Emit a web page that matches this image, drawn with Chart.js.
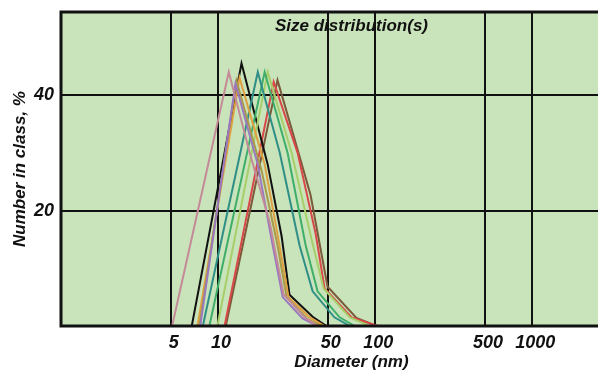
<!DOCTYPE html>
<html lang="en">
  <head>
    <meta charset="UTF-8" />
    <title>Size distribution(s)</title>
    <script src="https://cdn.jsdelivr.net/npm/chart.js"></script>
    <style>
      html, body { margin: 0; padding: 0; background: #fff; overflow: hidden; }
      #wrap { width: 660px; height: 373px; }
    </style>
    <script>
      // diameters (nm) and number-in-class (%), one pair per run
      const run1Diam = [5.1, 11.7, 15.9, 21.3, 26.1, 35.6, 43];
      const run1Pct = [0, 44, 30, 18, 5.5, 1.5, 0];
      const run2Diam = [7.7, 12.9, 17.9, 21.9, 25.8, 34.5, 43];
      const run2Pct = [0, 42, 28, 15, 5, 1.3, 0];
      const run3Diam = [7.6, 13.1, 18.9, 23.9, 27.3, 37.2, 45.6];
      const run3Pct = [0, 42.5, 27, 14, 5, 1.2, 0];
      const run4Diam = [7.4, 13.7, 19.8, 24.6, 28.1, 38.3, 47.7];
      const run4Pct = [0, 43, 28, 14, 5, 1.5, 0];
      const run5Diam = [8.0, 17.9, 24.7, 33, 40, 55, 69];
      const run5Pct = [0, 44, 30, 14, 6, 1.5, 0];
      const run6Diam = [8.8, 19.8, 27.7, 36.1, 43, 59.4, 74];
      const run6Pct = [0, 44, 30, 14, 6, 1.5, 0];
      const run7Diam = [9.9, 20.7, 29.4, 39.4, 47, 69, 92];
      const run7Pct = [0, 44, 30, 15, 6.5, 1.5, 0];
      const run8Diam = [6.8, 14.1, 20.7, 25.4, 28.5, 40, 49];
      const run8Pct = [0, 45.5, 28, 15.5, 5.4, 1.6, 0];
      const run9Diam = [11.0, 22.6, 32.1, 41.8, 47.7, 70.8, 104];
      const run9Pct = [0, 42.3, 30, 16, 6.5, 1.5, 0];
      const run10Diam = [11.2, 23.9, 29.8, 38.8, 49.8, 76, 102];
      const run10Pct = [0, 42.6, 33.6, 22.7, 6.8, 1.4, 0];

      const xTickValues = [5, 10, 50, 100, 500, 1000];
      const yTickValues = [20, 40];

      const runs = [
        [run1Diam, run1Pct, "#c48a98"],
        [run2Diam, run2Pct, "#9a78c0"],
        [run3Diam, run3Pct, "#a89a48"],
        [run4Diam, run4Pct, "#e0a040"],
        [run5Diam, run5Pct, "#2f8f86"],
        [run6Diam, run6Pct, "#3fae6a"],
        [run7Diam, run7Pct, "#a6cf6a"],
        [run8Diam, run8Pct, "#111111"],
        [run9Diam, run9Pct, "#d84848"],
        [run10Diam, run10Pct, "#7a5a3a"],
      ];

      const FONT = "'Liberation Sans', Arial, sans-serif";

      const plotDecor = {
        id: "plotDecor",
        beforeDraw(chart) {
          const { ctx, chartArea: a } = chart;
          ctx.save();
          ctx.fillStyle = "#c9e4bb";
          ctx.fillRect(a.left, a.top, a.right - a.left, a.bottom - a.top);
          ctx.restore();
        },
        afterDraw(chart) {
          const { ctx, chartArea: a } = chart;
          ctx.save();
          ctx.strokeStyle = "#111";
          ctx.lineWidth = 3;
          ctx.strokeRect(a.left, a.top, a.right - a.left, a.bottom - a.top);
          ctx.fillStyle = "#111";
          ctx.font = "italic bold 17px " + FONT;
          ctx.textAlign = "center";
          ctx.textBaseline = "middle";
          ctx.fillText("Size distribution(s)", (a.left + a.right) / 2, a.top + 14);
          ctx.restore();
        },
      };

      function drawChart() {
        const datasets = runs.map(([diam, pct, color]) => ({
          data: diam.map((d, i) => ({ x: d, y: pct[i] })),
          borderColor: color,
          borderWidth: 2,
          pointRadius: 0,
          tension: 0,
          fill: false,
        }));

        const tickFont = { family: FONT, size: 18, weight: "bold", style: "italic" };
        const titleFont = { family: FONT, size: 17, weight: "bold", style: "italic" };

        new Chart(document.getElementById("chart"), {
          type: "line",
          data: { datasets },
          options: {
            responsive: false,
            animation: false,
            devicePixelRatio: 1,
            layout: { padding: { top: 12, right: 18, left: 0, bottom: 0 } },
            plugins: { legend: { display: false }, tooltip: { enabled: false } },
            scales: {
              x: {
                type: "logarithmic",
                min: 1,
                max: 5000,
                afterBuildTicks: (s) => { s.ticks = xTickValues.map((v) => ({ value: v })); },
                afterFit: (s) => { s.height = 47; s.paddingLeft = 0; s.paddingRight = 0; },
                grid: { color: "#111", lineWidth: 2, drawTicks: false },
                border: { display: false },
                ticks: {
                  color: "#111",
                  font: tickFont,
                  padding: 6,
                  labelOffset: 3,
                  autoSkip: false,
                  maxRotation: 0,
                  callback: (v) => String(v),
                },
                title: {
                  display: true,
                  text: "Diameter (nm)",
                  color: "#111",
                  font: titleFont,
                  padding: { top: 0, bottom: 0 },
                },
              },
              y: {
                min: 0,
                max: 54.4,
                afterBuildTicks: (s) => { s.ticks = yTickValues.map((v) => ({ value: v })); },
                afterFit: (s) => { s.width = 61; s.paddingTop = 0; s.paddingBottom = 0; },
                grid: { color: "#111", lineWidth: 2, drawTicks: false },
                border: { display: false },
                ticks: { color: "#111", font: tickFont, padding: 7, callback: (v) => String(v) },
                title: {
                  display: true,
                  text: "Number in class, %",
                  color: "#111",
                  font: titleFont,
                  padding: { top: 10, bottom: 0 },
                },
              },
            },
          },
          plugins: [plotDecor],
        });
      }

      document.addEventListener("DOMContentLoaded", drawChart);
    </script>
  </head>
  <body>
    <div id="wrap">
      <canvas id="chart" width="660" height="373"></canvas>
    </div>
  </body>
</html>
